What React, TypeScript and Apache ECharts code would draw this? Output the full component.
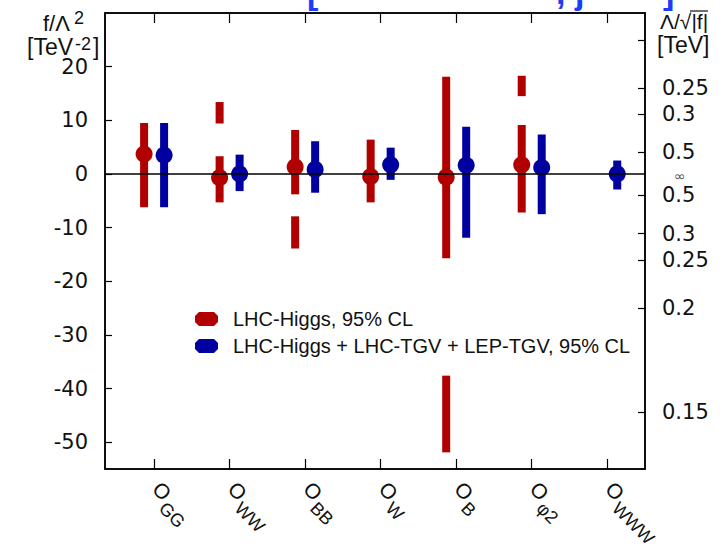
import React, { useEffect, useRef } from "react";
import * as echarts from "echarts";

// ---- data ----
const categories = ["GG", "WW", "BB", "W", "B", "φ2", "WWW"];
const redCenter = [3.7, -0.7, 1.3, -0.5, -0.6, 1.7, null];
const redLow = [-6.2, -5.3, -3.8, -5.3, -15.7, -7.2, null];
const redHigh = [9.5, 3.3, 8.2, 6.4, 18.1, 9.1, null];
const redLow2 = [null, 9.4, -13.9, null, -51.9, 14.5, null];
const redHigh2 = [null, 13.4, -7.9, null, -37.6, 18.3, null];
const blueCenter = [3.5, 0.0, 0.85, 1.7, 1.6, 1.2, 0.0];
const blueLow = [-6.2, -3.2, -3.5, -1.1, -11.9, -7.5, -2.9];
const blueHigh = [9.5, 3.6, 6.1, 4.9, 8.8, 7.35, 2.5];
const leftTicks = [-50, -40, -30, -20, -10, 0, 10, 20];
const lambdaPos = [0.2, 0.25, 0.3, 0.5];
const lambdaPosLabeled = [0.25, 0.3, 0.5];
const lambdaNeg = [0.5, 0.3, 0.25, 0.2, 0.15];
const seriesNames = ["LHC-Higgs, 95% CL", "LHC-Higgs + LHC-TGV + LEP-TGV, 95% CL"];

const RED = "#b00000";
const BLUE = "#0000a0";
const INK = "#111";
const TITLE_BLUE = "#1d3cf5";

const catPos = categories.map((_, i) => i + 1);

function intervals(lo: (number | null)[], hi: (number | null)[]) {
  const out: number[][] = [];
  lo.forEach((l, i) => {
    const h = hi[i];
    if (l !== null && h !== null) out.push([catPos[i], l, h]);
  });
  return out;
}
function points(c: (number | null)[]) {
  const out: number[][] = [];
  c.forEach((v, i) => {
    if (v !== null) out.push([catPos[i], v]);
  });
  return out;
}

function barRenderer(color: string, dx: number) {
  return (params: any, api: any) => {
    const x = api.value(0);
    const lo = api.value(1);
    const hi = api.value(2);
    const p1 = api.coord([x, hi]);
    const p2 = api.coord([x, lo]);
    return {
      type: "rect",
      shape: { x: p1[0] + dx - 4, y: p1[1], width: 8, height: p2[1] - p1[1] },
      style: { fill: color },
    };
  };
}

export default function App() {
  const ref = useRef<HTMLDivElement>(null);
  useEffect(() => {
    if (!ref.current) return;
    const chart = echarts.init(ref.current, undefined, { renderer: "svg" });
    const rightTickVals = [
      ...lambdaPos.map((l) => 1 / (l * l)),
      ...lambdaNeg.map((l) => -1 / (l * l)),
    ];
    const rightLabelVals = [
      ...lambdaPosLabeled.map((l) => 1 / (l * l)),
      0,
      ...lambdaNeg.map((l) => -1 / (l * l)),
    ];
    const numFont = "DejaVu Sans";
    const txtFont = "Liberation Sans";
    chart.setOption({
      animation: false,
      backgroundColor: "#fff",
      grid: {
        left: 105,
        right: 78,
        top: 13,
        bottom: 83,
        show: true,
        borderColor: "#000",
        borderWidth: 1.5,
        backgroundColor: "transparent",
      },
      legend: {
        data: seriesNames,
        orient: "vertical",
        left: 190,
        top: 304,
        itemGap: 7,
        itemWidth: 23,
        itemHeight: 14,
        icon: "path://M0,4 L4,0 L19,0 L23,4 L23,10 L19,14 L4,14 L0,10 Z",
        itemStyle: { opacity: 1 },
        textStyle: { fontSize: 20, fontFamily: txtFont, color: INK, padding: [0, 0, 0, 10] },
      },
      xAxis: [
        {
          type: "value",
          position: "bottom",
          min: 0.35,
          max: 7.5,
          splitLine: { show: false },
          axisLine: { show: true, onZero: false, lineStyle: { color: "#000", width: 1.5 } },
          axisTick: { show: true, inside: true, length: 10, customValues: catPos, lineStyle: { color: "#000", width: 1.2 } },
          axisLabel: {
            show: true,
            customValues: catPos,
            rotate: -45,
            margin: 14,
            formatter: (v: number) => {
              const i = Math.round(v) - 1;
              return "{o|O}{s|" + categories[i] + "}";
            },
            rich: {
              o: { fontSize: 21, fontFamily: txtFont, color: INK, padding: [0, 0, 0, 3] },
              s: { fontSize: 18, fontFamily: txtFont, color: INK, padding: [20, 0, 0, 2] },
            },
          },
        },
        {
          type: "value",
          position: "top",
          min: 0.35,
          max: 7.5,
          splitLine: { show: false },
          axisLine: { show: true, onZero: false, lineStyle: { color: "#000", width: 1.5 } },
          axisTick: { show: true, inside: true, length: 10, customValues: catPos, lineStyle: { color: "#000", width: 1.2 } },
          axisLabel: { show: false },
        },
      ],
      yAxis: [
        {
          type: "value",
          position: "left",
          min: -55,
          max: 30,
          splitLine: { show: false },
          axisLine: { show: true, onZero: false, lineStyle: { color: "#000", width: 1.5 } },
          axisTick: { show: true, inside: true, length: 7, customValues: leftTicks, lineStyle: { color: "#000", width: 1.2 } },
          axisLabel: {
            customValues: leftTicks,
            margin: 17,
            fontSize: 21,
            fontFamily: numFont,
            color: INK,
          },
        },
        {
          type: "value",
          position: "right",
          min: -55,
          max: 30,
          splitLine: { show: false },
          axisLine: { show: true, onZero: false, lineStyle: { color: "#000", width: 1.5 } },
          axisTick: { show: true, inside: true, length: 7, customValues: rightTickVals, lineStyle: { color: "#000", width: 1.2 } },
          axisLabel: {
            customValues: rightLabelVals,
            margin: 17,
            fontSize: 21,
            fontFamily: numFont,
            color: INK,
            formatter: (v: number) => {
              if (Math.abs(v) < 1e-9) return "{inf|∞}";
              const l = 1 / Math.sqrt(Math.abs(v));
              return String(Number(l.toFixed(2)));
            },
            rich: {
              inf: { fontSize: 14, fontFamily: numFont, color: "#555", padding: [4, 0, 0, 12] },
            },
          },
        },
      ],
      series: [
        {
          name: "zero",
          type: "line",
          data: [],
          z: 1,
          markLine: {
            silent: true,
            symbol: "none",
            label: { show: false },
            lineStyle: { color: "#000", width: 1.5, type: "solid" },
            data: [{ yAxis: 0 }],
          },
        },
        {
          name: "red intervals",
          type: "custom",
          z: 2,
          renderItem: barRenderer(RED, -10),
          encode: { x: 0, y: [1, 2] },
          data: [...intervals(redLow, redHigh), ...intervals(redLow2, redHigh2)],
        },
        {
          name: "blue intervals",
          type: "custom",
          z: 2,
          renderItem: barRenderer(BLUE, 10),
          encode: { x: 0, y: [1, 2] },
          data: intervals(blueLow, blueHigh),
        },
        {
          name: seriesNames[0],
          type: "scatter",
          z: 3,
          symbol: "circle",
          symbolSize: 17,
          symbolOffset: [-10, 0],
          itemStyle: { color: RED, opacity: 1 },
          data: points(redCenter),
        },
        {
          name: seriesNames[1],
          type: "scatter",
          z: 3,
          symbol: "circle",
          symbolSize: 17,
          symbolOffset: [10, 0],
          itemStyle: { color: BLUE, opacity: 1 },
          data: points(blueCenter),
        },
      ],
      graphic: [
        // cropped blue title remnants
        { type: "text", left: 307, top: -25, style: { text: "[", fontSize: 34, fontWeight: "bold", fontFamily: txtFont, fill: TITLE_BLUE } },
        { type: "text", left: 556, top: -25, style: { text: ", j", fontSize: 34, fontWeight: "bold", fontFamily: txtFont, fill: TITLE_BLUE } },
        { type: "text", left: 663, top: -25, style: { text: "]", fontSize: 34, fontWeight: "bold", fontFamily: txtFont, fill: TITLE_BLUE } },
        // left axis name
        { type: "text", x: 43, y: 23, style: { text: "f/Λ", fontSize: 22, fontFamily: txtFont, fill: INK, textVerticalAlign: "middle" } },
        { type: "text", x: 74, y: 18, style: { text: "2", fontSize: 18, fontFamily: txtFont, fill: INK, textVerticalAlign: "middle" } },
        { type: "text", x: 27, y: 47, style: { text: "[TeV", fontSize: 23, fontFamily: txtFont, fill: INK, textVerticalAlign: "middle" } },
        { type: "text", x: 75, y: 44, style: { text: "-2", fontSize: 18, fontFamily: txtFont, fill: INK, textVerticalAlign: "middle" } },
        { type: "text", x: 93, y: 47, style: { text: "]", fontSize: 23, fontFamily: txtFont, fill: INK, textVerticalAlign: "middle" } },
        // right axis name
        { type: "text", x: 660, y: 21, style: { text: "Λ/√|f|", fontSize: 21, fontFamily: txtFont, fill: INK, textVerticalAlign: "middle" } },
        { type: "line", shape: { x1: 690, y1: 11, x2: 708, y2: 11 }, style: { stroke: INK, lineWidth: 1.2 } },
        { type: "text", x: 657, y: 45, style: { text: "[TeV]", fontSize: 23, fontFamily: txtFont, fill: INK, textVerticalAlign: "middle" } },
      ],
    });
    return () => chart.dispose();
  }, []);
  return (
    <div
      ref={ref}
      style={{ position: "fixed", left: 0, top: 0, width: 723, height: 552, background: "#fff" }}
    />
  );
}
